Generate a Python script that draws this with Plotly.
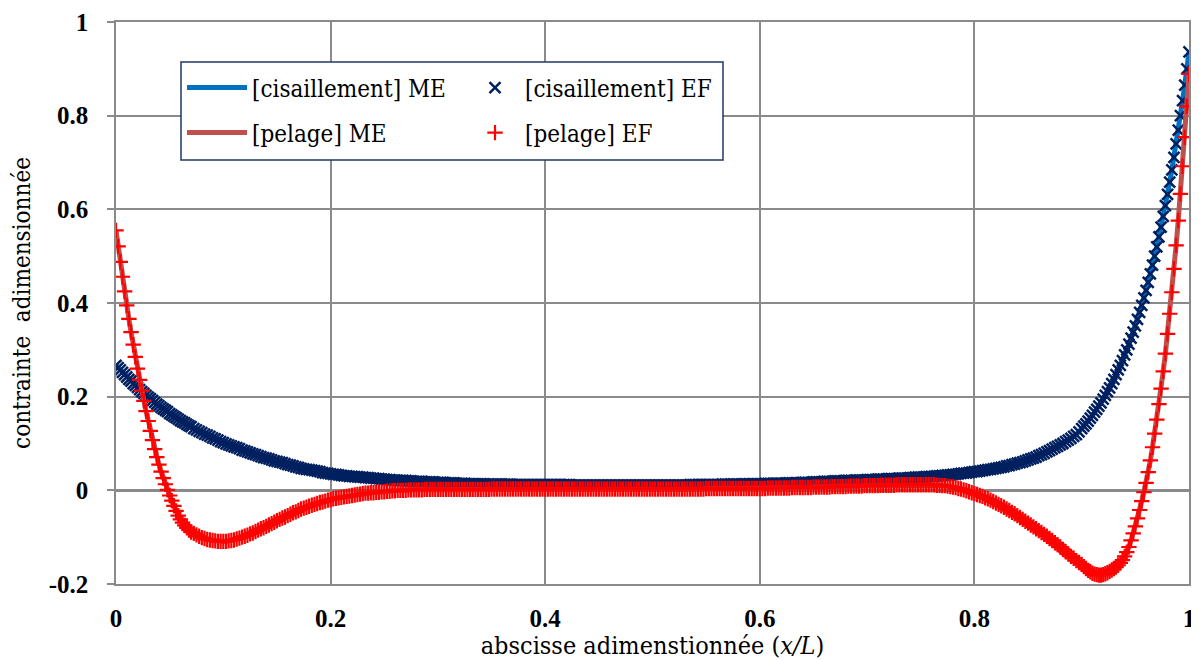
import plotly.graph_objects as go

# ---- abscissa of the finite-element nodes (x/L) ----
x_left = [round(0.002 * i, 4) for i in range(36)]          # 0.000 .. 0.070
x_mid = [round(0.0725 + 0.0025 * i, 4) for i in range(331)]  # 0.0725 .. 0.8975
x_right = [round(0.900 + 0.002 * i, 4) for i in range(51)]   # 0.900 .. 1.000
x_nodes = x_left + x_mid + x_right

# ---- shear stress (cisaillement) ----
shear_left = [0.267, 0.262, 0.257, 0.252, 0.247, 0.242, 0.237, 0.233, 0.228, 0.224,
              0.220, 0.215, 0.211, 0.207, 0.203, 0.199, 0.196, 0.192, 0.188, 0.184,
              0.181, 0.177, 0.174, 0.171, 0.168, 0.164, 0.161, 0.158, 0.155, 0.152,
              0.149, 0.146, 0.144, 0.141, 0.138, 0.136]
shear_mid = [0.132, 0.129, 0.126, 0.123, 0.120, 0.118, 0.115, 0.112, 0.110, 0.107,
             0.104, 0.102, 0.099, 0.097, 0.095, 0.093, 0.091, 0.089, 0.086, 0.084,
             0.082, 0.080, 0.078, 0.076, 0.074, 0.072, 0.070, 0.069, 0.067, 0.065,
             0.063, 0.062, 0.060, 0.059, 0.057, 0.055, 0.054, 0.052, 0.050, 0.049,
             0.047, 0.046, 0.045, 0.044, 0.043, 0.042, 0.041, 0.040, 0.038, 0.037,
             0.036, 0.035, 0.034, 0.034, 0.033, 0.032, 0.031, 0.031, 0.030, 0.030,
             0.029, 0.029, 0.028, 0.028, 0.027, 0.027, 0.026, 0.026, 0.025, 0.025,
             0.024, 0.024, 0.023, 0.023, 0.022, 0.022, 0.021, 0.021, 0.021, 0.021,
             0.020, 0.020, 0.019, 0.019, 0.019, 0.019, 0.018, 0.018, 0.018, 0.018,
             0.017, 0.017, 0.017, 0.017, 0.016, 0.016, 0.016, 0.016, 0.015, 0.015,
             0.015, 0.015, 0.014, 0.014, 0.014, 0.014, 0.014, 0.014, 0.014, 0.013,
             0.013, 0.013, 0.013, 0.013, 0.013, 0.013, 0.013, 0.013, 0.013, 0.012,
             0.012, 0.012, 0.012, 0.012, 0.012, 0.012, 0.012, 0.012, 0.012, 0.012,
             0.012, 0.012, 0.012, 0.012, 0.012, 0.012, 0.012, 0.012, 0.012, 0.012,
             0.012, 0.011, 0.011, 0.011, 0.011, 0.011, 0.011, 0.011, 0.011, 0.011,
             0.011, 0.011, 0.011, 0.011, 0.011, 0.011, 0.011, 0.011, 0.011, 0.011,
             0.011, 0.011, 0.011, 0.011, 0.011, 0.011, 0.011, 0.011, 0.011, 0.011,
             0.011, 0.011, 0.011, 0.011, 0.011, 0.011, 0.011, 0.011, 0.011, 0.011,
             0.011, 0.011, 0.011, 0.011, 0.011, 0.012, 0.012, 0.012, 0.012, 0.012,
             0.012, 0.012, 0.012, 0.012, 0.012, 0.012, 0.012, 0.013, 0.013, 0.013,
             0.013, 0.013, 0.013, 0.013, 0.013, 0.014, 0.014, 0.014, 0.014, 0.014,
             0.014, 0.014, 0.014, 0.015, 0.015, 0.015, 0.015, 0.015, 0.015, 0.015,
             0.015, 0.016, 0.016, 0.016, 0.016, 0.016, 0.016, 0.017, 0.017, 0.017,
             0.017, 0.018, 0.018, 0.018, 0.018, 0.019, 0.019, 0.019, 0.019, 0.020,
             0.020, 0.020, 0.020, 0.021, 0.021, 0.021, 0.021, 0.022, 0.022, 0.022,
             0.022, 0.023, 0.023, 0.023, 0.023, 0.024, 0.024, 0.024, 0.024, 0.025,
             0.025, 0.025, 0.025, 0.026, 0.026, 0.026, 0.026, 0.027, 0.027, 0.028,
             0.028, 0.028, 0.028, 0.029, 0.029, 0.030, 0.030, 0.031, 0.031, 0.032,
             0.032, 0.033, 0.033, 0.034, 0.034, 0.035, 0.036, 0.037, 0.037, 0.038,
             0.039, 0.040, 0.040, 0.041, 0.042, 0.043, 0.044, 0.045, 0.046, 0.047,
             0.048, 0.049, 0.050, 0.052, 0.053, 0.055, 0.056, 0.058, 0.059, 0.061,
             0.063, 0.065, 0.067, 0.069, 0.071, 0.074, 0.076, 0.079, 0.082, 0.085,
             0.088, 0.091, 0.094, 0.097, 0.100, 0.104, 0.107, 0.111, 0.115, 0.119,
             0.125]
shear_right = [0.132, 0.137, 0.142, 0.148, 0.154, 0.160, 0.167, 0.173, 0.180, 0.187,
               0.195, 0.203, 0.211, 0.219, 0.228, 0.237, 0.247, 0.257, 0.267, 0.277,
               0.289, 0.300, 0.312, 0.325, 0.338, 0.351, 0.365, 0.380, 0.395, 0.411,
               0.427, 0.444, 0.462, 0.481, 0.500, 0.520, 0.541, 0.562, 0.585, 0.608,
               0.632, 0.658, 0.684, 0.711, 0.740, 0.769, 0.800, 0.832, 0.865, 0.900,
               0.936]

# ---- peel stress (pelage) ----
peel_left = [0.555, 0.521, 0.488, 0.456, 0.425, 0.395, 0.366, 0.338, 0.311, 0.285,
             0.260, 0.236, 0.213, 0.191, 0.169, 0.148, 0.127, 0.107, 0.088, 0.071,
             0.055, 0.040, 0.026, 0.013, 0.001, -0.011, -0.022, -0.033, -0.044, -0.054,
             -0.062, -0.069, -0.075, -0.080, -0.085, -0.089]
peel_mid = [-0.092, -0.095, -0.098, -0.101, -0.103, -0.105, -0.106, -0.107, -0.108, -0.109,
            -0.109, -0.109, -0.109, -0.108, -0.107, -0.106, -0.104, -0.102, -0.100, -0.098,
            -0.096, -0.093, -0.091, -0.088, -0.085, -0.082, -0.080, -0.077, -0.074, -0.071,
            -0.068, -0.065, -0.062, -0.059, -0.057, -0.054, -0.051, -0.048, -0.046, -0.043,
            -0.040, -0.038, -0.036, -0.034, -0.032, -0.030, -0.028, -0.026, -0.025, -0.023,
            -0.021, -0.020, -0.018, -0.017, -0.016, -0.015, -0.014, -0.013, -0.012, -0.011,
            -0.010, -0.009, -0.008, -0.007, -0.006, -0.006, -0.005, -0.005, -0.004, -0.004,
            -0.003, -0.003, -0.002, -0.002, -0.001, -0.001, 0.000, 0.000, 0.000, 0.000,
            0.001, 0.001, 0.001, 0.001, 0.001, 0.001, 0.002, 0.002, 0.002, 0.002,
            0.002, 0.002, 0.002, 0.002, 0.002, 0.002, 0.002, 0.002, 0.002, 0.002,
            0.002, 0.002, 0.002, 0.002, 0.002, 0.002, 0.002, 0.002, 0.002, 0.002,
            0.002, 0.003, 0.003, 0.003, 0.003, 0.003, 0.003, 0.003, 0.003, 0.003,
            0.003, 0.003, 0.003, 0.003, 0.003, 0.003, 0.003, 0.003, 0.003, 0.003,
            0.003, 0.003, 0.003, 0.003, 0.003, 0.003, 0.003, 0.003, 0.003, 0.003,
            0.003, 0.003, 0.003, 0.003, 0.003, 0.003, 0.003, 0.003, 0.003, 0.003,
            0.003, 0.003, 0.003, 0.003, 0.003, 0.003, 0.003, 0.003, 0.003, 0.003,
            0.003, 0.003, 0.003, 0.003, 0.003, 0.003, 0.003, 0.003, 0.003, 0.003,
            0.003, 0.003, 0.003, 0.003, 0.003, 0.003, 0.003, 0.003, 0.003, 0.003,
            0.003, 0.003, 0.003, 0.003, 0.003, 0.003, 0.003, 0.003, 0.003, 0.003,
            0.003, 0.004, 0.004, 0.004, 0.004, 0.004, 0.004, 0.004, 0.004, 0.004,
            0.004, 0.004, 0.004, 0.004, 0.004, 0.004, 0.004, 0.004, 0.004, 0.004,
            0.004, 0.004, 0.004, 0.004, 0.005, 0.005, 0.005, 0.005, 0.005, 0.005,
            0.005, 0.005, 0.005, 0.006, 0.006, 0.006, 0.006, 0.006, 0.006, 0.006,
            0.006, 0.007, 0.007, 0.007, 0.007, 0.007, 0.007, 0.007, 0.008, 0.008,
            0.008, 0.008, 0.008, 0.008, 0.009, 0.009, 0.009, 0.009, 0.009, 0.009,
            0.010, 0.010, 0.010, 0.010, 0.010, 0.010, 0.011, 0.011, 0.011, 0.011,
            0.011, 0.011, 0.012, 0.012, 0.012, 0.012, 0.012, 0.012, 0.012, 0.012,
            0.012, 0.012, 0.012, 0.012, 0.012, 0.012, 0.012, 0.011, 0.011, 0.010,
            0.010, 0.009, 0.008, 0.007, 0.006, 0.004, 0.003, 0.001, -0.001, -0.003,
            -0.005, -0.007, -0.009, -0.011, -0.013, -0.016, -0.018, -0.021, -0.024, -0.027,
            -0.030, -0.033, -0.036, -0.040, -0.043, -0.047, -0.050, -0.054, -0.058, -0.062,
            -0.066, -0.070, -0.074, -0.078, -0.082, -0.086, -0.090, -0.094, -0.098, -0.103,
            -0.107, -0.112, -0.116, -0.121, -0.126, -0.131, -0.136, -0.141, -0.145, -0.150,
            -0.154]
peel_right = [-0.158, -0.163, -0.167, -0.171, -0.174, -0.177, -0.179, -0.180, -0.181, -0.181,
              -0.180, -0.178, -0.176, -0.173, -0.170, -0.167, -0.164, -0.160, -0.155, -0.149,
              -0.141, -0.132, -0.121, -0.107, -0.092, -0.077, -0.060, -0.042, -0.023, -0.004,
              0.016, 0.039, 0.064, 0.092, 0.121, 0.151, 0.184, 0.217, 0.254, 0.292,
              0.334, 0.377, 0.423, 0.473, 0.523, 0.576, 0.633, 0.692, 0.754, 0.820,
              0.889]

shear = shear_left + shear_mid + shear_right
peel = peel_left + peel_mid + peel_right

x_ticks = [0, 0.2, 0.4, 0.6, 0.8, 1]
x_tick_labels = ["0", "0.2", "0.4", "0.6", "0.8", "1"]
y_ticks = [-0.2, 0, 0.2, 0.4, 0.6, 0.8, 1]
y_tick_labels = ["-0.2", "0", "0.2", "0.4", "0.6", "0.8", "1"]

series_names = ["[cisaillement] ME", "[cisaillement] EF", "[pelage] ME", "[pelage] EF"]

SERIF = "DejaVu Serif Condensed, DejaVu Serif, serif"
TICKFONT = dict(family="Liberation Serif, serif", size=25, color="black", weight="bold")
GRID = "#8a8a8a"

fig = go.Figure()
fig.add_trace(go.Scatter(x=x_nodes, y=shear, mode="lines", name=series_names[0],
                         line=dict(color="#0070C0", width=5), legend="legend"))
fig.add_trace(go.Scatter(x=x_nodes, y=shear, mode="markers", name=series_names[1],
                         marker=dict(symbol="x-thin", size=11, color="#002060",
                                     line=dict(color="#002060", width=2.5)),
                         legend="legend2"))
fig.add_trace(go.Scatter(x=x_nodes, y=peel, mode="lines", name=series_names[2],
                         line=dict(color="#C0504D", width=5), legend="legend3"))
fig.add_trace(go.Scatter(x=x_nodes, y=peel, mode="markers", name=series_names[3],
                         marker=dict(symbol="cross-thin", size=11, color="#FF0000",
                                     line=dict(color="#FF0000", width=2.2)),
                         legend="legend4"))

# The page body has an 8 px margin: the figure starts at (8, 8) in the window.
OFF = 8
FIG_W, FIG_H = 1199 - OFF, 660 - OFF
# plot area in window pixels: left 116, right 1189, top 22, bottom 584
PL, PR, PT, PB = 116, 1189, 22, 584
W, H = PR - PL, PB - PT


def px_x(px):
    return (px - PL) / W


def px_y(py):
    return (PB - py) / H


leg_font = dict(family=SERIF, size=24, color="black")
legend_common = dict(bgcolor="rgba(0,0,0,0)", borderwidth=0, font=leg_font,
                     xanchor="left", yanchor="middle", tracegroupgap=0)

fig.update_layout(
    width=FIG_W, height=FIG_H,
    margin=dict(l=PL - OFF, r=1199 - PR, t=PT - OFF, b=660 - PB, autoexpand=False),
    paper_bgcolor="white", plot_bgcolor="white",
    showlegend=True,
    legend=dict(x=px_x(182), y=px_y(88), itemwidth=60, **legend_common),
    legend2=dict(x=px_x(465), y=px_y(88), itemwidth=50, **legend_common),
    legend3=dict(x=px_x(182), y=px_y(133), itemwidth=60, **legend_common),
    legend4=dict(x=px_x(465), y=px_y(133), itemwidth=50, **legend_common),
    xaxis=dict(range=[0, 1], tickvals=x_ticks, ticktext=x_tick_labels,
               automargin=False,
               showgrid=True, gridcolor=GRID, gridwidth=1.5,
               showline=True, mirror=True, linecolor=GRID, linewidth=1.5,
               zeroline=False, ticks="", ticklabelstandoff=11,
               tickfont=TICKFONT,
               title=dict(text="abscisse adimenstionnée (<i>x/L</i>)",
                          font=dict(family=SERIF, size=25, color="black"),
                          standoff=0)),
    yaxis=dict(range=[-0.2, 1], tickvals=y_ticks, ticktext=y_tick_labels,
               automargin=False,
               showgrid=True, gridcolor=GRID, gridwidth=1.5,
               showline=True, mirror=True, linecolor=GRID, linewidth=1.5,
               zeroline=True, zerolinecolor=GRID, zerolinewidth=3,
               ticks="outside", ticklen=7, tickcolor=GRID, tickwidth=1.5,
               ticklabelstandoff=14,
               tickfont=TICKFONT,
               title=dict(text="contrainte  adimensionnée",
                          font=dict(family=SERIF, size=24, color="black"),
                          standoff=18)),
    shapes=[dict(type="rect", xref="paper", yref="paper",
                 x0=px_x(181), x1=px_x(723), y0=px_y(160), y1=px_y(62),
                 fillcolor="white", line=dict(color="#1F3864", width=1.5),
                 layer="above")],
)

fig.write_html("out.html")
